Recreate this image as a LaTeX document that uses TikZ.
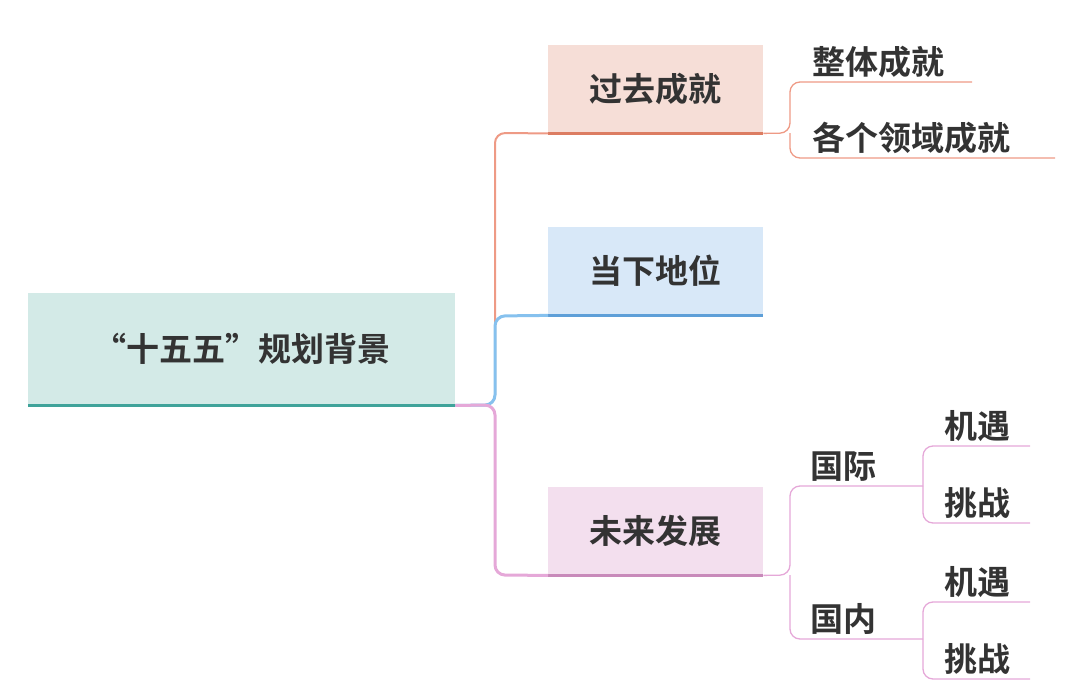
\documentclass[tikz,border=0pt]{standalone}
\usepackage{fontspec}
\setmainfont{Noto Sans CJK SC Bold}
\begin{document}
\begin{tikzpicture}[x=1pt,y=-1pt,
  txt/.style={font=\fontsize{33}{36}\selectfont, text=black!80},
  box/.style={minimum width=215pt, minimum height=88pt, inner sep=0pt, txt},
  ln/.style={line width=1.3pt, rounded corners=10pt}]
\useasboundingbox (0,0) rectangle (1080,696);
\definecolor{rootf}{HTML}{D3EAE7}\definecolor{roote}{HTML}{3FA39A}
\definecolor{orf}{HTML}{F6DED7}\definecolor{ore}{HTML}{DC7D62}\definecolor{orl}{HTML}{EE9A85}
\definecolor{blf}{HTML}{D8E8F8}\definecolor{ble}{HTML}{5E9FD8}\definecolor{bll}{HTML}{86C1EE}
\definecolor{puf}{HTML}{F3DFEE}\definecolor{pue}{HTML}{C88ABA}\definecolor{pul}{HTML}{E5A8D8}
% root
\node[box, minimum width=427pt, minimum height=112pt, fill=rootf, anchor=north west] (root) at (28,293) {“十五五”规划背景};
\draw[roote, line width=3pt] (root.south west) -- (root.south east);
% branches
\node[box, fill=orf, anchor=north west] (b1) at (548,45) {过去成就};
\node[box, fill=blf, anchor=north west] (b2) at (548,227) {当下地位};
\node[box, fill=puf, anchor=north west] (b3) at (548,487) {未来发展};
\draw[ore, line width=2.5pt] (b1.south west) -- (b1.south east);
\draw[ble, line width=2.5pt] (b2.south west) -- (b2.south east);
\draw[pue, line width=2.5pt] (b3.south west) -- (b3.south east);
\coordinate (j) at (495,405);
\draw[orl, ln, line width=2pt] (root.south east) -- (j) -- (495,133) -- (b1.south west);
\draw[bll, ln, line width=3pt] (root.south east) -- (j) -- (495,316) -- (b2.south west);
\draw[pul, ln, line width=3pt] (root.south east) -- (j) -- (495,575) -- (b3.south west);
% sub of b1
\node[txt, anchor=south west, inner sep=2pt] (s1) at (810,80) {整体成就};
\node[txt, anchor=south west, inner sep=2pt] (s2) at (810,156) {各个领域成就};
\coordinate (s1e) at (972,82); \coordinate (s2e) at (1055,158);
\draw[orl, ln] (b1.south east) -- (790,133) -- (790,82) -- (s1e);
\draw[orl, ln] (790,133) -- (790,158) -- (s2e);
% sub of b3
\node[txt, anchor=south west, inner sep=2pt] (g1) at (808,484) {国际};
\node[txt, anchor=south west, inner sep=2pt] (g2) at (808,637) {国内};
\draw[pul, ln] (b3.south east) -- (790,575) -- (790,486) -- (923,486);
\draw[pul, ln] (790,575) -- (790,639) -- (923,639);
\node[txt, anchor=south west, inner sep=2pt] (a1) at (942,444) {机遇};
\node[txt, anchor=south west, inner sep=2pt] (a2) at (942,521) {挑战};
\node[txt, anchor=south west, inner sep=2pt] (a3) at (942,600) {机遇};
\node[txt, anchor=south west, inner sep=2pt] (a4) at (942,677) {挑战};
\draw[pul, ln] (923,486) -- (923,446) -- (1030,446);
\draw[pul, ln] (923,486) -- (923,523) -- (1030,523);
\draw[pul, ln] (923,639) -- (923,602) -- (1030,602);
\draw[pul, ln] (923,639) -- (923,679) -- (1030,679);
\end{tikzpicture}
\end{document}
